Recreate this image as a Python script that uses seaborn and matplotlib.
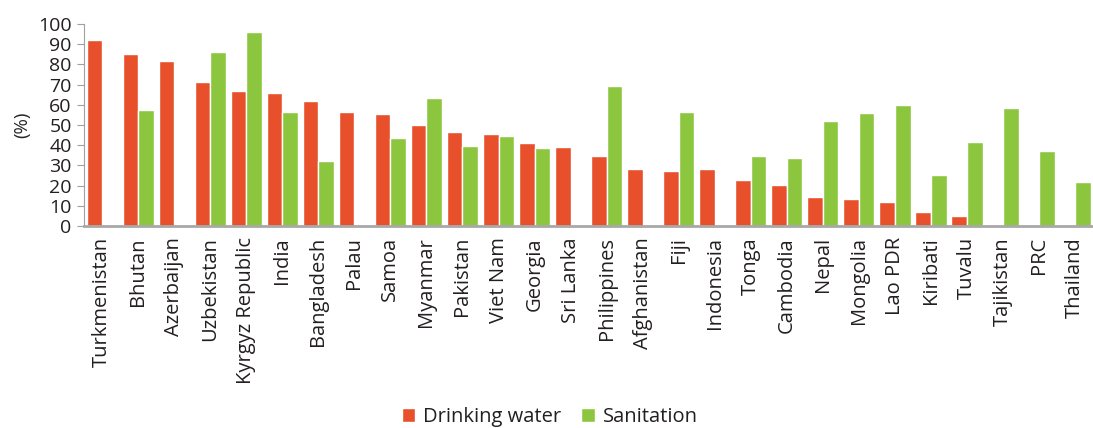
import matplotlib
matplotlib.use("Agg")
import matplotlib.pyplot as plt
import seaborn as sns
import pandas as pd
import numpy as np

countries = ["Turkmenistan", "Bhutan", "Azerbaijan", "Uzbekistan", "Kyrgyz Republic",
             "India", "Bangladesh", "Palau", "Samoa", "Myanmar", "Pakistan", "Viet Nam",
             "Georgia", "Sri Lanka", "Philippines", "Afghanistan", "Fiji", "Indonesia",
             "Tonga", "Cambodia", "Nepal", "Mongolia", "Lao PDR", "Kiribati", "Tuvalu",
             "Tajikistan", "PRC", "Thailand"]
drinking = [92, 85, 81.7, 71.4, 67, 66, 62, 56.6, 55.6, 50.2, 46.7, 45.7, 41.3, 39.3,
            34.4, 28, 27, 28, 23, 20.1, 14.2, 13.2, 11.7, 6.8, 4.8, np.nan, np.nan, np.nan]
sanitation = [np.nan, 57.6, np.nan, 86.2, 96, 56.6, 32, np.nan, 43.7, 63.5, 39.8, 44.7,
              38.8, np.nan, 69.4, np.nan, 56.6, np.nan, 34.4, 33.9, 52.1, 56.1, 60, 25,
              41.8, 58.6, 36.9, 22]

df = pd.DataFrame({"country": countries * 2,
                   "value": drinking + sanitation,
                   "series": ["Drinking water"] * len(countries) + ["Sanitation"] * len(countries)})

sns.set_style("white")
plt.rcParams["font.family"] = ["Open Sans", "DejaVu Sans"]
plt.rcParams["text.color"] = "#231F20"
plt.rcParams["xtick.color"] = "#231F20"
plt.rcParams["ytick.color"] = "#231F20"

fig = plt.figure(figsize=(10.93, 4.28), dpi=100)
ax = fig.add_axes([0.077, 0.472, 0.923, 0.472])

palette = {"Drinking water": "#E8502C", "Sanitation": "#8CC63F"}
sns.barplot(data=df, x="country", y="value", hue="series", palette=palette,
            width=0.87, saturation=1, ax=ax, legend=True)

ax.set_ylim(0, 100)
ax.set_xlim(-0.5, len(countries) - 0.5)
ax.set_yticks(range(0, 101, 10))
ax.tick_params(axis="y", labelsize=14, length=5, color="#A0A0A0", pad=4, left=True)
ax.tick_params(axis="x", labelsize=14.5, rotation=90, length=0, pad=8)
ax.set_xlabel("")
ax.set_ylabel("(%)", fontsize=13.5, labelpad=5)

for s in ["top", "right"]:
    ax.spines[s].set_visible(False)
ax.spines["left"].set_color("#A0A0A0")
ax.spines["bottom"].set_color("#A8A8A8")
ax.spines["bottom"].set_linewidth(2)

ax.legend(loc="center", bbox_to_anchor=(0.503, 0.026), bbox_transform=fig.transFigure,
          ncol=2, frameon=False, fontsize=14.5, handlelength=0.65, handleheight=0.65,
          handletextpad=0.4, columnspacing=1.0, borderpad=0)

fig.savefig("out.png", dpi=100)
